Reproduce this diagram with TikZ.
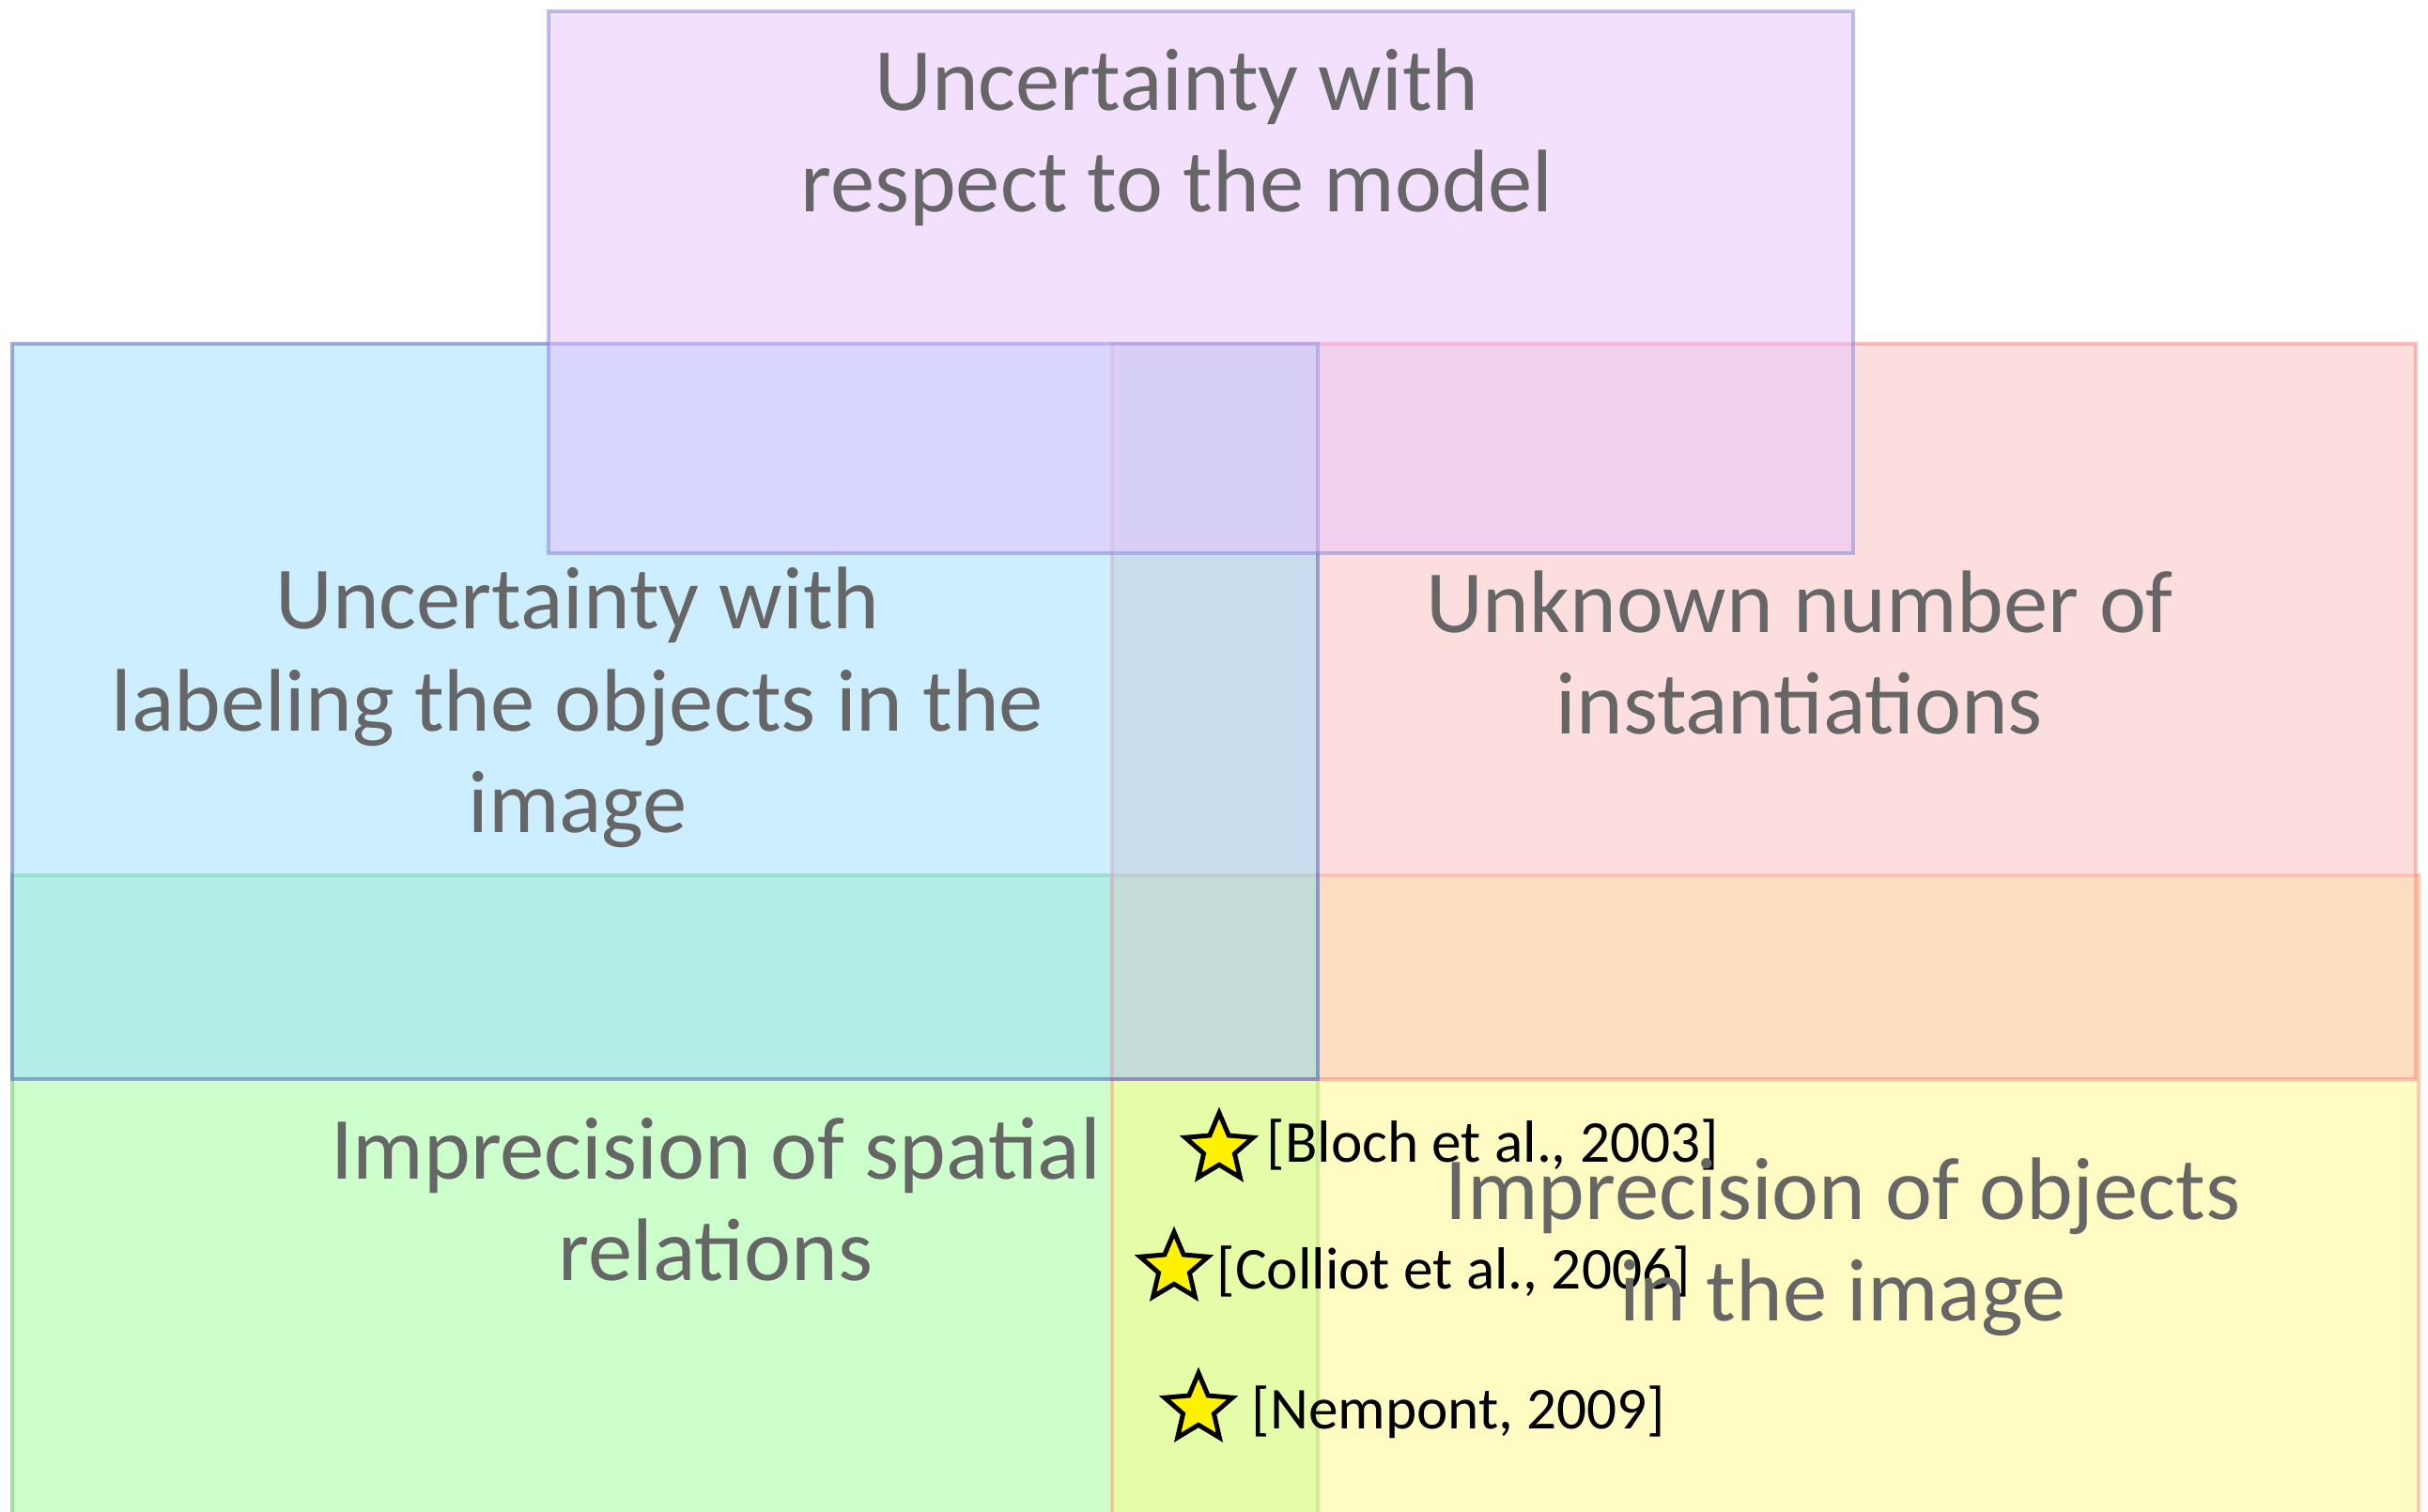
\documentclass[tikz,border=0pt]{standalone}
\usepackage{fontspec}
\setmainfont{Carlito}
\usepackage{xcolor}
\usepackage{tikz}
\usetikzlibrary{shapes.geometric, positioning}

\definecolor{modelfill}{RGB}{231,193,255}
\definecolor{modeldraw}{RGB}{128,133,209}
\definecolor{labelfill}{RGB}{153,221,255}
\definecolor{labeldraw}{RGB}{77,87,183}
\definecolor{instfill}{RGB}{251,189,189}
\definecolor{instdraw}{RGB}{255,128,128}
\definecolor{spatfill}{RGB}{153,255,153}
\definecolor{spatdraw}{RGB}{90,200,90}
\definecolor{objfill}{RGB}{255,249,135}
\definecolor{objdraw}{RGB}{255,150,130}
\definecolor{textgray}{RGB}{102,102,102}

\begin{document}
\begin{tikzpicture}[
    box/.style={line width=1.4pt, fill opacity=0.5, draw opacity=0.5},
    title/.style={text=textgray, align=center, font=\fontsize{26.9}{31}\selectfont, inner sep=0pt, anchor=base},
    ref/.style={font=\fontsize{18}{20}\selectfont, inner sep=0pt, anchor=base west},
    refstar/.style={star, star points=5, star point ratio=2.2, draw=black, fill=yellow, line width=1.4pt, minimum size=0.76cm, inner sep=0pt}
]
    \clip (0,0) rectangle (25.85,16.10);

    % Các hộp chồng lên nhau
    \draw[box, fill=spatfill, draw=spatdraw] (0.13,6.78) rectangle (14.03,-0.5);
    \draw[box, fill=objfill, draw=objdraw] (11.84,6.78) rectangle (25.75,-0.5);
    \draw[box, fill=instfill, draw=instdraw] (11.84,12.44) rectangle (25.72,4.61);
    \draw[box, fill=labelfill, draw=labeldraw] (0.13,12.44) rectangle (14.03,4.61);
    \draw[box, fill=modelfill, draw=modeldraw] (5.84,15.98) rectangle (19.73,10.21);

    % Tài liệu tham khảo
    \node[ref] (bloch) at (13.48,3.72) {[Bloch et al., 2003]};
    \node[ref] (colliot) at (12.95,2.37) {[Colliot et al., 2006]};
    \node[ref] (nempont) at (13.32,0.88) {[Nempont, 2009]};
    \node[refstar] (s1) at (12.98,3.87) {};
    \node[refstar] (s2) at (12.50,2.60) {};
    \node[refstar] (s3) at (12.76,1.10) {};

    % Nhãn các hộp (anchor = đường cơ sở dòng cuối)
    \node[title] (model) at (12.53,13.84) {Uncertainty with\\respect to the model};
    \node[title] (labeling) at (6.15,7.23) {Uncertainty with\\labeling the objects in the\\image};
    \node[title] (inst) at (19.16,8.28) {Unknown number of\\instantiations};
    \node[title] (spatial) at (7.62,2.46) {Imprecision of spatial\\relations};
    \node[title] (objects) at (19.62,2.03) {Imprecision of objects\\in the image};
\end{tikzpicture}
\end{document}
